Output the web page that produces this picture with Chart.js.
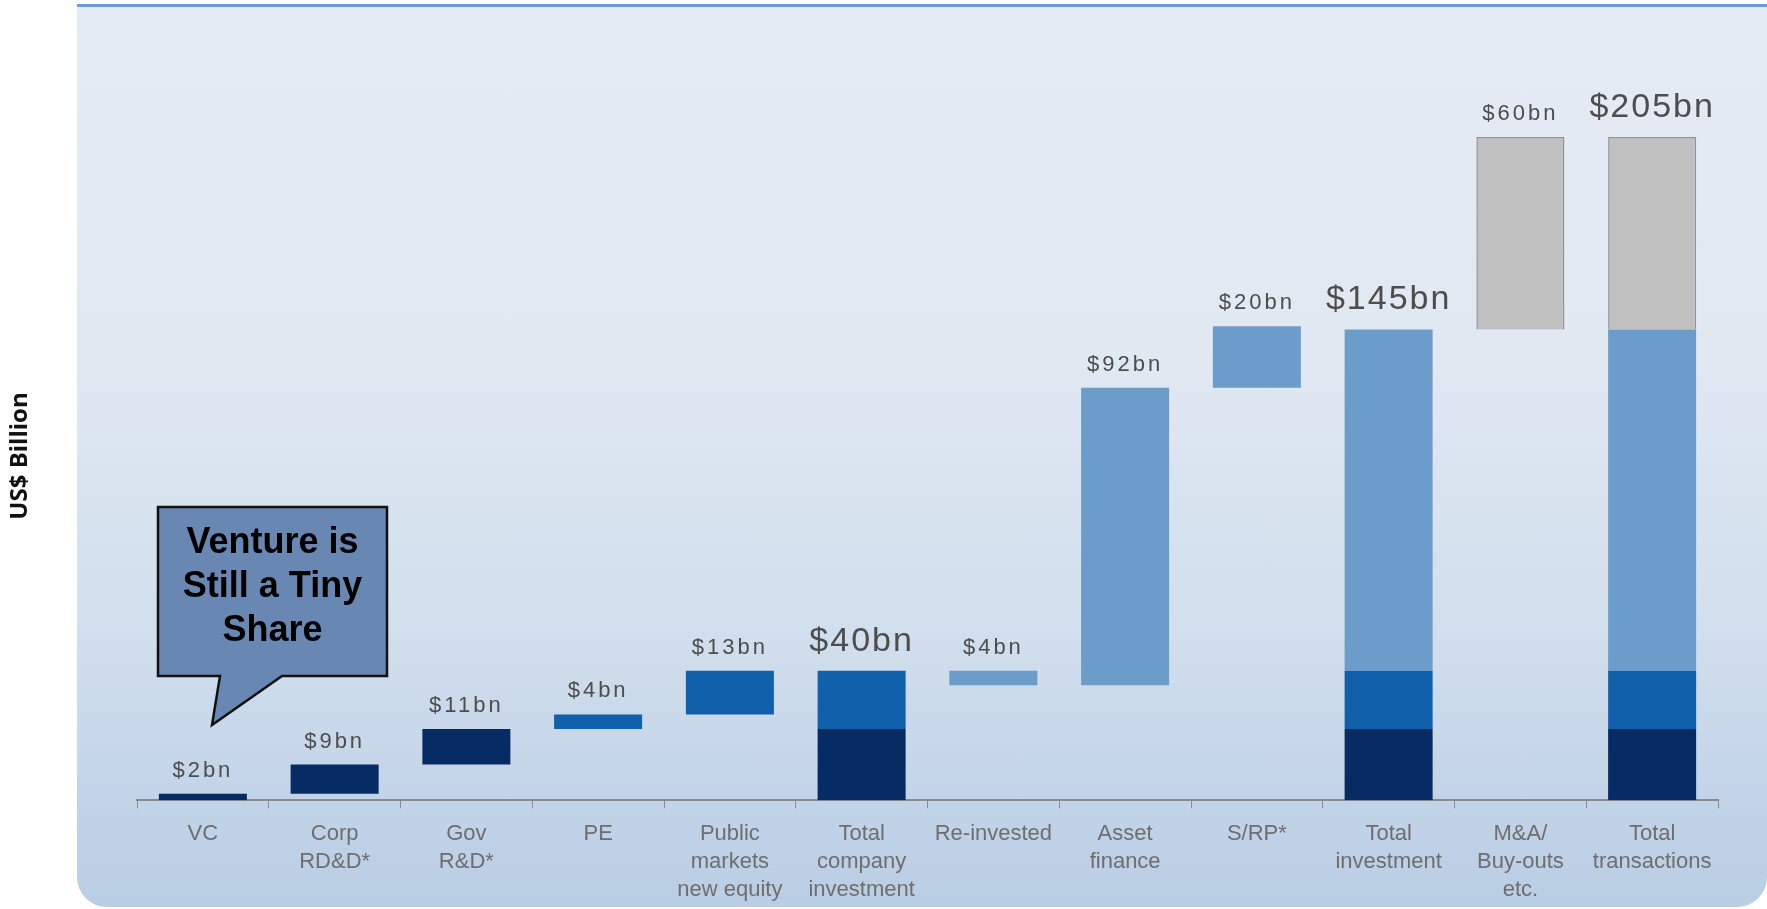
<!DOCTYPE html>
<html>
<head>
<meta charset="utf-8">
<script src="https://cdn.jsdelivr.net/npm/chart.js@4"></script>
<style>
  html, body { margin: 0; padding: 0; background: #ffffff; overflow: hidden; }
  #wrap { position: absolute; left: 0; top: 0; width: 1767px; height: 909px; overflow: hidden; }
  #panel {
    position: absolute; left: 77px; top: 4px; right: 0; bottom: 2px;
    border-top: 3px solid #6b9bd2;
    border-radius: 0 0 30px 30px;
    background: linear-gradient(to bottom, #e4ebf4 0%, #e0e8f2 40%, #d1deed 70%, #b9cde4 100%);
  }
  canvas { position: absolute; left: 0; top: 0; }
</style>
</head>
<body>
<div id="wrap">
  <div id="panel"></div>
  <canvas id="chart" width="1767" height="916"></canvas>
</div>
<script>
// categories (multi-line axis labels)
var categories = [
    ['VC'], ['Corp', 'RD&D*'], ['Gov', 'R&D*'], ['PE'],
    ['Public', 'markets', 'new equity'], ['Total', 'company', 'investment'],
    ['Re-invested'], ['Asset', 'finance'], ['S/RP*'],
    ['Total', 'investment'], ['M&A/', 'Buy-outs', 'etc.'], ['Total', 'transactions']
];

// labels printed above each bar
var valueLabels = ['$2bn', '$9bn', '$11bn', '$4bn', '$13bn', '$40bn', '$4bn', '$92bn', '$20bn', '$145bn', '$60bn', '$205bn'];
var bigLabel = [false, false, false, false, false, true, false, false, false, true, false, true];

// floating segments [from, to] in US$ bn
var researchSeries = [[0, 2], [2, 11], [11, 22], null, null, [0, 22], null, null, null, [0, 22], null, [0, 22]];
var equitySeries = [null, null, null, [22, 26.5], [26.5, 40], [22, 40], null, null, null, [22, 40], null, [22, 40]];
var assetSeries = [null, null, null, null, null, null, [35.5, 40], [35.5, 127.5], [127.5, 146.5], [40, 145.5], null, [40, 145.5]];
var mergerSeries = [null, null, null, null, null, null, null, null, null, null, [145.5, 205], [145.5, 205]];

var FONT = '"Liberation Sans", Arial, sans-serif';

// labels above the bars
var valueLabelPlugin = {
    id: 'valueLabels',
    afterDatasetsDraw: function (chart) {
        var ctx = chart.ctx;
        var xs = chart.scales.x, ys = chart.scales.y;
        ctx.save();
        ctx.fillStyle = '#4d4d4d';
        ctx.textAlign = 'center';
        ctx.textBaseline = 'alphabetic';
        for (var i = 0; i < categories.length; i++) {
            var top = 0;
            chart.data.datasets.forEach(function (ds) {
                if (ds.data[i]) top = Math.max(top, ds.data[i][1]);
            });
            var x = xs.getPixelForValue(i);
            var y = ys.getPixelForValue(top) - (bigLabel[i] ? 20 : 17);
            ctx.font = (bigLabel[i] ? '34px ' : '22px ') + FONT;
            ctx.letterSpacing = bigLabel[i] ? '2px' : '3px';
            ctx.fillText(valueLabels[i], x, y);
        }
        ctx.letterSpacing = '0px';
        ctx.restore();
    }
};

// rotated axis title on the far left
var yTitlePlugin = {
    id: 'yTitle',
    afterDraw: function (chart, args, opts) {
        var ctx = chart.ctx;
        ctx.save();
        ctx.translate(opts.x, opts.y);
        ctx.rotate(-Math.PI / 2);
        ctx.font = 'bold 24px "Open Sans", sans-serif';
        ctx.fillStyle = '#111111';
        ctx.textAlign = 'center';
        ctx.textBaseline = 'middle';
        ctx.fillText(opts.text, 0, 0);
        ctx.restore();
    }
};

// speech-bubble note pointing at VC
var calloutPlugin = {
    id: 'callout',
    afterDraw: function (chart, args, opts) {
        var ctx = chart.ctx;
        var b = opts.box;
        ctx.save();
        ctx.beginPath();
        ctx.moveTo(b.x, b.y);
        ctx.lineTo(b.x + b.w, b.y);
        ctx.lineTo(b.x + b.w, b.y + b.h);
        ctx.lineTo(b.tailRight, b.y + b.h);
        ctx.lineTo(b.tipX, b.tipY);
        ctx.lineTo(b.tailLeft, b.y + b.h);
        ctx.lineTo(b.x, b.y + b.h);
        ctx.closePath();
        ctx.fillStyle = '#6887b3';
        ctx.fill();
        ctx.lineWidth = 2.5;
        ctx.strokeStyle = '#111111';
        ctx.stroke();
        ctx.fillStyle = '#000000';
        ctx.font = 'bold 36px ' + FONT;
        ctx.textAlign = 'center';
        ctx.textBaseline = 'middle';
        opts.lines.forEach(function (t, k) {
            ctx.fillText(t, b.x + b.w / 2, b.y + 36 + k * 44);
        });
        ctx.restore();
    }
};

new Chart('chart', {
    type: 'bar',
    data: {
        labels: categories,
        datasets: [
            { label: 'Research', data: researchSeries, backgroundColor: '#072b63', grouped: false },
            { label: 'Equity', data: equitySeries, backgroundColor: '#1060ab', grouped: false },
            { label: 'Asset', data: assetSeries, backgroundColor: '#6b9cca', grouped: false },
            { label: 'M&A', data: mergerSeries, backgroundColor: '#c0c0c0', borderColor: '#8f9296', borderWidth: 1.5, grouped: false }
        ]
    },
    plugins: [valueLabelPlugin, yTitlePlugin, calloutPlugin],
    options: {
        responsive: false,
        animation: false,
        barPercentage: 0.668,
        categoryPercentage: 1,
        layout: { padding: { left: 137, right: 49, top: 56, bottom: 0 } },
        plugins: {
            legend: { display: false },
            tooltip: { enabled: false },
            yTitle: { text: 'US$ Billion', x: 20, y: 456 },
            callout: {
                box: { x: 158, y: 507, w: 229, h: 169, tailLeft: 220, tailRight: 282, tipX: 212, tipY: 725 },
                lines: ['Venture is', 'Still a Tiny', 'Share']
            }
        },
        scales: {
            x: {
                grid: { display: true, drawOnChartArea: false, drawTicks: true, tickLength: 8, color: '#8c8c8c', offset: true },
                border: { display: true, color: '#8a8a8a', width: 2 },
                ticks: {
                    color: '#6e6e6e',
                    padding: 12,
                    maxRotation: 0,
                    autoSkip: false,
                    font: { family: FONT, size: 22, lineHeight: 1.27 }
                }
            },
            y: {
                display: false,
                min: 0,
                max: 230
            }
        }
    }
});
</script>
</body>
</html>
